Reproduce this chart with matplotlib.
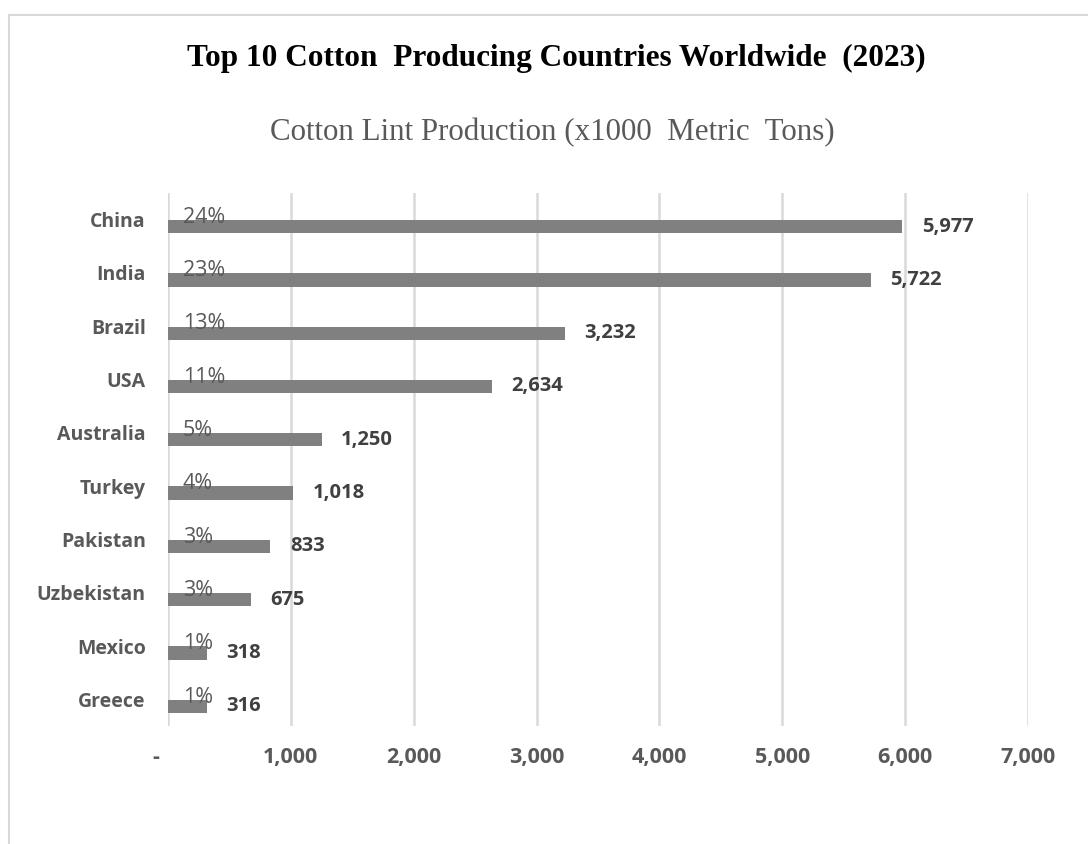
import numpy as np
import matplotlib.pyplot as plt
from matplotlib.patches import Rectangle

countries = ["China", "India", "Brazil", "USA", "Australia", "Turkey",
             "Pakistan", "Uzbekistan", "Mexico", "Greece"]
production = [5977, 5722, 3232, 2634, 1250, 1018, 833, 675, 318, 316]
shares = [24, 23, 13, 11, 5, 4, 3, 3, 1, 1]
xticks = [0, 1000, 2000, 3000, 4000, 5000, 6000, 7000]

txt = "#595959"
sans = ["Open Sans", "DejaVu Sans"]
serif = ["Liberation Serif", "DejaVu Serif"]

fig = plt.figure(figsize=(10.88, 8.44), dpi=100)
ax = fig.add_axes([0.1544, 0.1398, 0.7904, 0.6315])

# border of the chart area (only left and top show in the picture)
fig.patches.append(Rectangle((9 / 1088, -0.1), 1.2, 1 - 15 / 844 + 0.1,
                             transform=fig.transFigure, fill=False,
                             edgecolor="#d9d9d9", linewidth=1.5))

pos = np.arange(len(countries))
ax.barh(pos + 0.13, production, height=0.25, color="#808080", zorder=3)

for i, (v, s) in enumerate(zip(production, shares)):
    ax.text(122, i + 0.06, f"{s}%", ha="left", va="baseline",
            fontsize=15.5, color=txt, family=sans, zorder=4)
    ax.annotate(f"{v:,}", (v, i + 0.13), xytext=(14, 0),
                textcoords="offset points", ha="left", va="center",
                fontsize=14.5, fontweight="bold", color="#404040", family=sans)

ax.set_xlim(0, 7000)
ax.set_ylim(9.5, -0.5)
ax.set_xticks(xticks)
# accounting style: zero shown as a dash, a little left of the axis
ax.set_xticklabels(["-    " if t == 0 else f"{t:,}" for t in xticks])
ax.set_yticks(pos)
ax.set_yticklabels(countries)
for lab in ax.get_xticklabels() + ax.get_yticklabels():
    lab.set_family(sans)
    lab.set_fontweight("bold")
    lab.set_color(txt)
for lab in ax.get_yticklabels():
    lab.set_fontsize(14)
for lab in ax.get_xticklabels():
    lab.set_fontsize(15.5)
ax.tick_params(axis="both", length=0)
ax.tick_params(axis="x", pad=15)
ax.tick_params(axis="y", pad=16)

ax.grid(axis="x", color="#d9d9d9", linewidth=1.8, zorder=0)
for sp in ax.spines.values():
    sp.set_visible(False)

fig.text(0.511, 0.931, "Top 10 Cotton  Producing Countries Worldwide  (2023)",
         ha="center", va="center", fontsize=22.5, fontweight="bold",
         color="black", family=serif)
fig.text(0.508, 0.843, "Cotton Lint Production (x1000  Metric  Tons)",
         ha="center", va="center", fontsize=22.3, color=txt, family=serif)

fig.savefig("out.png", dpi=100)
